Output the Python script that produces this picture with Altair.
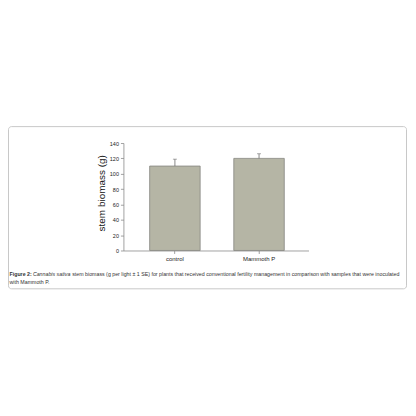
import altair as alt
import pandas as pd

# ---- data ----
groups = ["control", "Mammoth P"]
biomass = [110, 120]
se = [9, 6]
y_ticks = [0, 20, 40, 60, 80, 100, 120, 140]
caption_bold = "Figure 2:"
caption_italic = "Cannabis sativa"
caption_rest = (" stem biomass (g per light \u00b1 1 SE) for plants that received conventional "
                "fertility management in comparison with samples that were inoculated")
caption_line2 = "with Mammoth P."

df = pd.DataFrame({"group": groups, "biomass": biomass, "se": se})
df["upper"] = df["biomass"] + df["se"]
one = pd.DataFrame({"k": [0]})

FONT = "Liberation Sans"
W, H = 186, 108

x_scale = alt.Scale(paddingInner=0.4, paddingOuter=0.3, align=0.52)
x_axis = alt.Axis(title=None, labelAngle=0, labelFontSize=6, labelColor="#222",
                  labelFont=FONT, domainColor="#8a8a8a", tickColor="#8a8a8a",
                  tickSize=3, labelPadding=2, domainWidth=0.8, tickWidth=0.8,
                  labelOverlap=False)
y_scale = alt.Scale(domain=[0, 140], nice=False)
y_axis = alt.Axis(values=y_ticks, grid=False, title="stem biomass (g)",
                  titleFont=FONT, titleFontSize=10, titleFontWeight="normal",
                  titleColor="#111", titleAngle=270, titleX=-22, titleY=50,
                  titleAlign="center", titleBaseline="middle",
                  labelFont=FONT, labelFontSize=5.5, labelColor="#222",
                  domainColor="#8a8a8a", tickColor="#8a8a8a", tickSize=3,
                  labelPadding=2, domainWidth=0.8, tickWidth=0.8,
                  labelOverlap=False)

x_enc = alt.X("group:N", sort=groups, scale=x_scale, axis=x_axis)

base = alt.Chart(df)

box = alt.Chart(one).mark_rect(
    fillOpacity=0, stroke="#c8c8c8", strokeWidth=1, cornerRadius=3
).encode(x=alt.value(-115.5), x2=alt.value(284.5), y=alt.value(-16.5), y2=alt.value(146.5))

bars = base.mark_bar(fill="#b5b5a5", stroke="#858580", strokeWidth=0.8).encode(
    x=x_enc, y=alt.Y("biomass:Q", scale=y_scale, axis=y_axis))
err = base.mark_rule(color="#6a6a6a", strokeWidth=0.8).encode(
    x=x_enc, y=alt.Y("biomass:Q", scale=y_scale, axis=y_axis), y2="upper:Q")
cap = base.mark_tick(color="#6a6a6a", size=4, thickness=0.8).encode(
    x=x_enc, y=alt.Y("upper:Q", scale=y_scale, axis=y_axis))

txt_kw = dict(align="left", baseline="middle", fontSize=5.3, font=FONT, color="#333")
t1 = alt.Chart(one).mark_text(text=caption_bold, fontWeight="bold", **txt_kw).encode(
    x=alt.value(-114.5), y=alt.value(132))
t2 = alt.Chart(one).mark_text(text=caption_italic, fontStyle="italic", **txt_kw).encode(
    x=alt.value(-91), y=alt.value(132))
t3 = alt.Chart(one).mark_text(text=caption_rest, **txt_kw).encode(
    x=alt.value(-51.5), y=alt.value(132))
t4 = alt.Chart(one).mark_text(text=caption_line2, **txt_kw).encode(
    x=alt.value(-114.5), y=alt.value(139.5))

chart = alt.layer(box, bars, err, cap, t1, t2, t3, t4).properties(
    width=W, height=H,
    autosize="none",
    padding={"left": 116, "top": 135, "right": 100, "bottom": 40},
    background="white",
).configure_view(strokeWidth=0)

chart.save("out.html", embed_options={"renderer": "svg", "actions": False})
